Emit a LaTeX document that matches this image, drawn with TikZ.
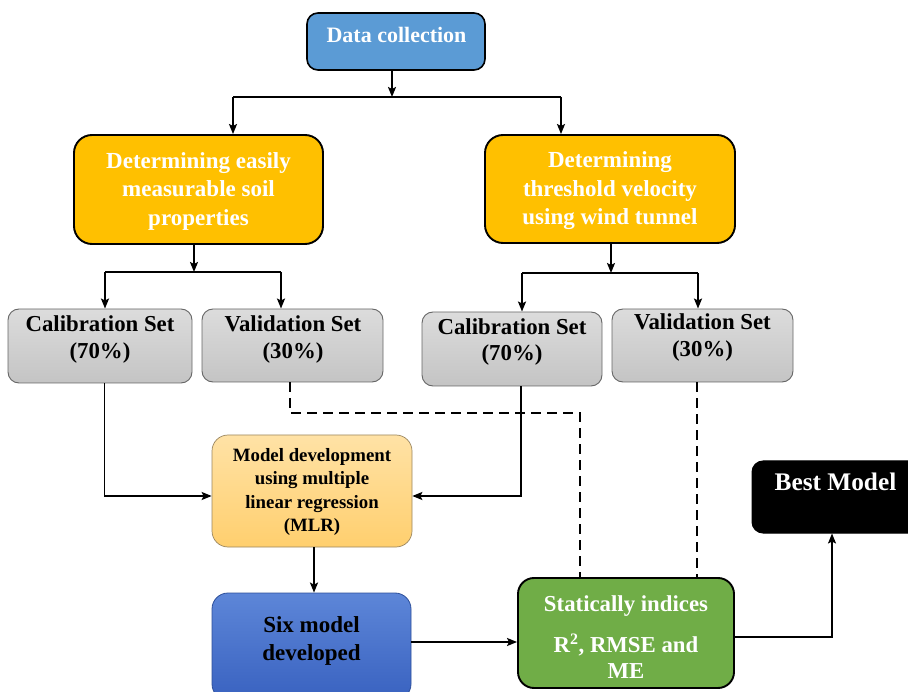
\documentclass[tikz,border=0pt]{standalone}
\usepackage{fontspec}
\setmainfont{Liberation Serif}
\usetikzlibrary{arrows.meta}
\definecolor{dcblue}{HTML}{5B9BD5}
\definecolor{ygold}{HTML}{FFC000}
\definecolor{ggreen}{HTML}{70AD47}
\definecolor{graytop}{HTML}{DCDCDC}
\definecolor{graybot}{HTML}{C4C4C4}
\definecolor{grayline}{HTML}{666666}
\definecolor{mlrtop}{HTML}{FFE2A6}
\definecolor{mlrbot}{HTML}{FFCF6E}
\definecolor{mlrline}{HTML}{9A8660}
\definecolor{sixtop}{HTML}{5D86D8}
\definecolor{sixbot}{HTML}{3962C0}
\definecolor{sixline}{HTML}{2D4F9A}
\newcommand{\myfs}[2]{\fontsize{#1}{#2}\selectfont\bfseries}
\begin{document}
\begin{tikzpicture}[x=1pt,y=-1pt,
  box/.style={draw, inner sep=0pt},
  txt/.style={inner sep=0pt, align=center},
  conn/.style={line width=1.9pt},
  arr/.style={line width=1.9pt, -{Stealth[length=10pt,width=8pt,inset=2pt]}},
  dsh/.style={line width=2.1pt, dash pattern=on 10pt off 6pt},
  graybox/.style={box, draw=grayline, line width=0.9pt, top color=graytop, bottom color=graybot, rounded corners=11pt},
  yellowbox/.style={box, fill=ygold, line width=1.9pt, rounded corners=18pt},
]
\useasboundingbox (0,0) rectangle (908,692);

% boxes
\node[box, fill=dcblue, line width=1.6pt, rounded corners=11pt, minimum width=178pt, minimum height=57pt] (data) at (396,41.5) {};
\node[txt, text=white, font=\myfs{22}{26}, anchor=base] (data-t) at (396.5,43) {Data collection};

\node[yellowbox, minimum width=249pt, minimum height=109pt] (yl) at (198.5,189.5) {};
\node[txt, text=white, font=\myfs{23}{28.5}] (yl-t) at (198.5,191) {Determining easily\\measurable soil\\properties};

\node[yellowbox, minimum width=250pt, minimum height=108pt] (yr) at (610,189) {};
\node[txt, text=white, font=\myfs{23}{28.5}] (yr-t) at (610,191) {Determining\\threshold velocity\\using wind tunnel};

\node[graybox, minimum width=184pt, minimum height=74pt] (cal1) at (100,346) {};
\node[txt, font=\myfs{22.8}{26.5}] (cal1-t) at (100,339.5) {Calibration Set\\(70\%)};

\node[graybox, minimum width=181pt, minimum height=73pt] (val1) at (292.5,345.5) {};
\node[txt, font=\myfs{22.8}{26.5}] (val1-t) at (293,339.5) {Validation Set\\(30\%)};

\node[graybox, minimum width=180pt, minimum height=74pt] (cal2) at (512,349) {};
\node[txt, font=\myfs{22.8}{26.5}] (cal2-t) at (512,342) {Calibration Set\\(70\%)};

\node[graybox, minimum width=181pt, minimum height=73pt] (val2) at (702.5,345.5) {};
\node[txt, font=\myfs{22.8}{26.5}] (val2-t) at (702.5,337.5) {Validation Set\\(30\%)};

\node[box, draw=mlrline, line width=0.7pt, top color=mlrtop, bottom color=mlrbot, rounded corners=16pt, minimum width=200pt, minimum height=112pt] (mlr) at (312,491) {};
\node[txt, font=\myfs{18.8}{23.2}] (mlr-t) at (312,492) {Model development\\using multiple\\linear regression\\(MLR)};

\node[box, draw=sixline, line width=0.8pt, top color=sixtop, bottom color=sixbot, rounded corners=16pt, minimum width=199pt, minimum height=107pt] (six) at (311.5,646.5) {};
\node[txt, font=\myfs{23}{28.5}] (six-t) at (311.5,641) {Six model\\developed};

\node[box, fill=ggreen, line width=1.9pt, rounded corners=16pt, minimum width=216pt, minimum height=110pt] (green) at (626,633) {};
\node[txt, text=white, font=\myfs{22.8}{26}] (green-t) at (626,637) {Statically indices\\[15pt]R\textsuperscript{2}, RMSE and\\ME};

\node[box, fill=black, line width=1pt, rounded corners=11pt, minimum width=167pt, minimum height=72pt] (best) at (835.5,497) {};
\node[txt, text=white, font=\myfs{25.3}{28}, anchor=base] (best-t) at (835.5,490) {Best Model};

% junction coordinates
\coordinate (j0) at (392,97);
\coordinate (tl) at (233,97);
\coordinate (tr) at (561,97);
\coordinate (j1) at (194,272);
\coordinate (l1) at (105,272);
\coordinate (l2) at (281,272);
\coordinate (j2) at (611,273);
\coordinate (r1) at (522,273);
\coordinate (r2) at (698,273);
\coordinate (c1) at (104.5,496);
\coordinate (c2) at (521,496);
\coordinate (d1) at (290,413);
\coordinate (d2) at (580,413);
\coordinate (v2) at (697,400);
\coordinate (m1) at (314,560);
\coordinate (s1) at (450,642);
\coordinate (g1) at (832,637);

% connectors
\draw[arr] (data.south -| j0) -- (j0);
\draw[conn] (tl) -- (tr);
\draw[arr] (tl) -- (tl |- yl.north);
\draw[arr] (tr) -- (tr |- yr.north);

\draw[arr] (yl.south -| j1) -- (j1);
\draw[conn] (l1) -- (l2);
\draw[arr] (l1) -- (l1 |- cal1.north);
\draw[arr] (l2) -- (l2 |- val1.north);

\draw[arr] (yr.south -| j2) -- (j2);
\draw[conn] (r1) -- (r2);
\draw[arr] (r1) -- (r1 |- cal2.north);
\draw[arr] (r2) -- (r2 |- val2.north);

\draw[dsh] (val1.south -| d1) -- (d1) -- (d2) -- (d2 |- green.north);
\draw[dsh] (val2.south -| v2) -- (v2 |- green.north);

\draw[arr] (cal1.south -| c1) -- (c1) -- (mlr.west |- c1);
\draw[arr] (cal2.south -| c2) -- (c2) -- (mlr.east |- c2);

\draw[arr] (mlr.south -| m1) -- (m1 |- six.north);
\draw[arr] (six.east |- s1) -- (green.west |- s1);
\draw[line width=1.6pt, -{Stealth[length=10pt,width=8pt,inset=2pt]}] (green.east |- g1) -- (g1) -- (g1 |- best.south);
\end{tikzpicture}
\end{document}
